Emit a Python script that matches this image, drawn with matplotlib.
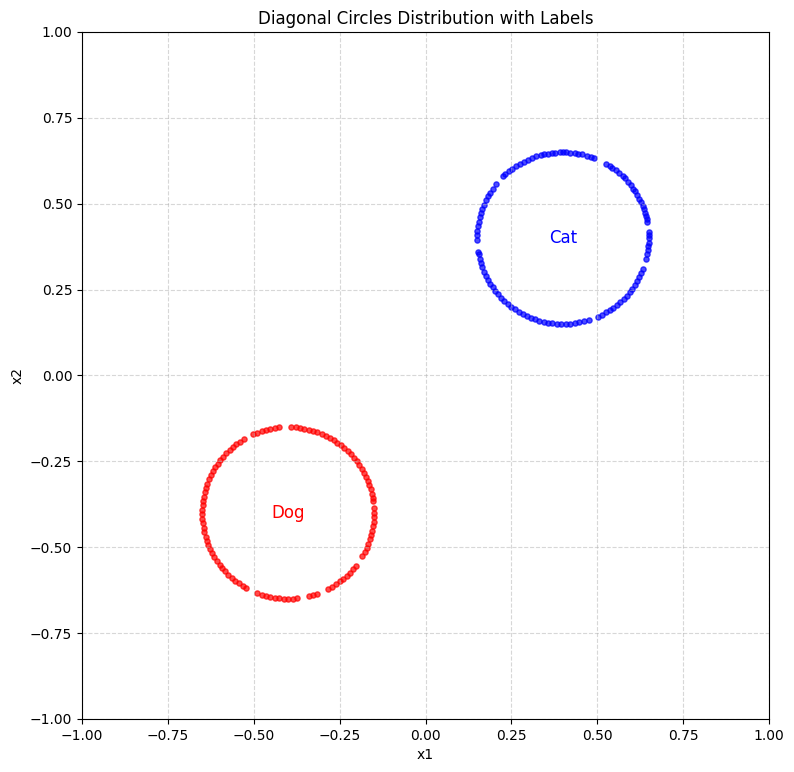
import numpy as np
import matplotlib.pyplot as plt

# angles (degrees) of points
CAT_ANGLES = [0, 2, 4, 11, 13, 15, 17, 20, 22, 25, 27, 30, 33, 35, 38, 41, 44, 46, 49, 52,
              55, 57, 60, 69, 71, 74, 77, 80, 82, 85, 88, 90, 92, 95, 97, 100, 103, 105,
              108, 111, 114, 117, 120, 123, 126, 129, 132, 134, 141, 145, 148, 151, 154,
              157, 160, 163, 166, 169, 172, 175, 178, 181, 189, 191, 194, 197, 200, 203,
              206, 209, 212, 215, 218, 221, 224, 227, 230, 233, 236, 239, 242, 245, 248,
              251, 254, 257, 260, 263, 266, 269, 272, 275, 278, 281, 284, 288, 294, 297,
              300, 303, 306, 309, 312, 315, 318, 321, 324, 327, 330, 333, 336, 339, 346,
              349, 352, 355, 357]
DOG_ANGLES = [0, 3, 8, 10, 13, 16, 19, 22, 25, 28, 31, 34, 37, 40, 43, 46, 49, 52, 55, 58,
              61, 64, 67, 70, 73, 76, 79, 82, 85, 88, 96, 99, 102, 105, 108, 111, 114, 121,
              124, 127, 130, 133, 136, 139, 142, 145, 148, 151, 154, 157, 160, 163, 166,
              169, 172, 175, 178, 181, 184, 187, 190, 193, 196, 199, 202, 205, 208, 211,
              214, 217, 220, 223, 226, 229, 232, 235, 238, 241, 249, 252, 255, 258, 261,
              264, 267, 270, 273, 276, 284, 287, 290, 298, 301, 304, 307, 310, 313, 316,
              319, 322, 330, 333, 336, 339, 342, 345, 348, 351, 354, 357]

CAT_CENTER = (0.4, 0.4)
DOG_CENTER = (-0.4, -0.4)
RADIUS = 0.25


def ring(center, angles):
    a = np.deg2rad(np.array(angles))
    return center[0] + RADIUS * np.cos(a), center[1] + RADIUS * np.sin(a)


fig = plt.figure(figsize=(7.94, 7.72), dpi=100)
ax = fig.add_axes([82 / 794, 53 / 772, 687 / 794, 687 / 772])

cx, cy = ring(CAT_CENTER, CAT_ANGLES)
dx, dy = ring(DOG_CENTER, DOG_ANGLES)
ax.scatter(cx, cy, color="blue", s=14, alpha=0.7)
ax.scatter(dx, dy, color="red", s=14, alpha=0.7)

ax.text(CAT_CENTER[0], CAT_CENTER[1], "Cat", color="blue", fontsize=12, ha="center", va="center")
ax.text(DOG_CENTER[0], DOG_CENTER[1], "Dog", color="red", fontsize=12, ha="center", va="center")

ax.set_xlim(-1, 1)
ax.set_ylim(-1, 1)
ax.set_xlabel("x1")
ax.set_ylabel("x2")
ax.set_title("Diagonal Circles Distribution with Labels")
ax.grid(True, linestyle="--", alpha=0.5)

fig.savefig("out.png")
